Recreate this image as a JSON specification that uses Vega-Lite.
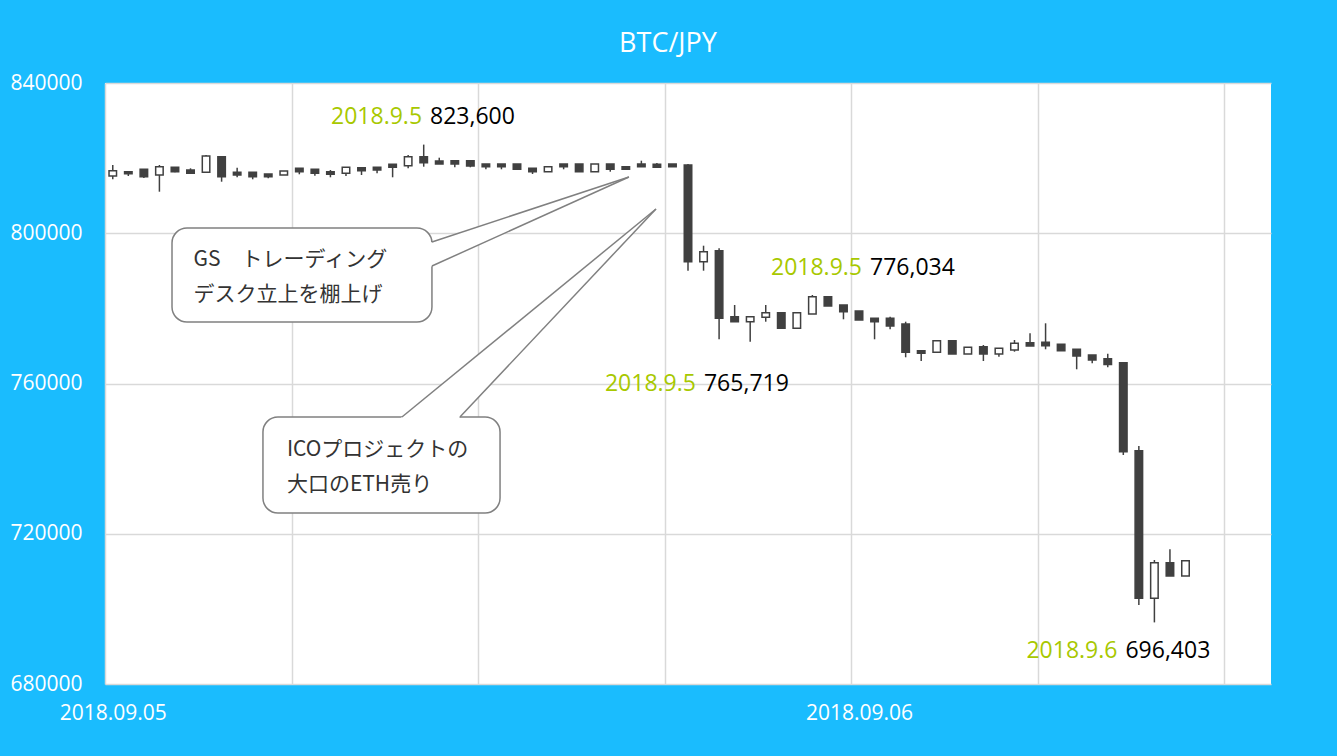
{
  "$schema": "https://vega.github.io/schema/vega-lite/v6.json",
  "width": 1166,
  "height": 601,
  "autosize": {"type": "none"},
  "padding": {"left": 105, "top": 83, "right": 66, "bottom": 72},
  "background": "#1ABCFE",
  "view": {"fill": "white", "stroke": null},
  "title": {"text": "BTC/JPY", "color": "white", "fontSize": 27, "font": "Open Sans", "fontWeight": "normal", "anchor": "middle", "dx": -20, "dy": 14, "baseline": "alphabetic", "offset": 7},
  "datasets": {
    "candles": [
      {"i":0,"open":815242,"high":818170,"low":814363,"close":816653},
      {"i":1,"open":816387,"high":816450,"low":815242,"close":815855},
      {"i":2,"open":817026,"high":817100,"low":814709,"close":815055},
      {"i":3,"open":815508,"high":818170,"low":811062,"close":817718},
      {"i":4,"open":817558,"high":817640,"low":816227,"close":816387},
      {"i":5,"open":816839,"high":817292,"low":815961,"close":815961},
      {"i":6,"open":816227,"high":820832,"low":816227,"close":820566},
      {"i":7,"open":820380,"high":820566,"low":813724,"close":815055},
      {"i":8,"open":816227,"high":817452,"low":814896,"close":815508},
      {"i":9,"open":816227,"high":816307,"low":814363,"close":815055},
      {"i":10,"open":815774,"high":815774,"low":814629,"close":815055},
      {"i":11,"open":815508,"high":816573,"low":815508,"close":816573},
      {"i":12,"open":817292,"high":817292,"low":815694,"close":816387},
      {"i":13,"open":817026,"high":817026,"low":815322,"close":815961},
      {"i":14,"open":816387,"high":816839,"low":814896,"close":815694},
      {"i":15,"open":815961,"high":817558,"low":815242,"close":817558},
      {"i":16,"open":817452,"high":817452,"low":815508,"close":816653},
      {"i":17,"open":817558,"high":817558,"low":815961,"close":816839},
      {"i":18,"open":818356,"high":818356,"low":814896,"close":817558},
      {"i":19,"open":817984,"high":820832,"low":817292,"close":820380},
      {"i":20,"open":820380,"high":823600,"low":817718,"close":818783},
      {"i":21,"open":819235,"high":820114,"low":818436,"close":818436},
      {"i":22,"open":819315,"high":819315,"low":817558,"close":818436},
      {"i":23,"open":819315,"high":819315,"low":817558,"close":817904},
      {"i":24,"open":818436,"high":818436,"low":817026,"close":817718},
      {"i":25,"open":818436,"high":818436,"low":817026,"close":817718},
      {"i":26,"open":818436,"high":818436,"low":817026,"close":817026},
      {"i":27,"open":817292,"high":817292,"low":815774,"close":816387},
      {"i":28,"open":816387,"high":817718,"low":816387,"close":817718},
      {"i":29,"open":818436,"high":818436,"low":817026,"close":817718},
      {"i":30,"open":818436,"high":818436,"low":816387,"close":816387},
      {"i":31,"open":816387,"high":818436,"low":816387,"close":818436},
      {"i":32,"open":818436,"high":818436,"low":816387,"close":817026},
      {"i":33,"open":817718,"high":817718,"low":817026,"close":817026},
      {"i":34,"open":818436,"high":819315,"low":817718,"close":817718},
      {"i":35,"open":818356,"high":818702,"low":817372,"close":817558},
      {"i":36,"open":818436,"high":818436,"low":817718,"close":817718},
      {"i":37,"open":818170,"high":818436,"low":790030,"close":792426},
      {"i":38,"open":792426,"high":796686,"low":790030,"close":795089},
      {"i":39,"open":795355,"high":795994,"low":771768,"close":777358},
      {"i":40,"open":777784,"high":780899,"low":776453,"close":776453},
      {"i":41,"open":776453,"high":777784,"low":771129,"close":777784},
      {"i":42,"open":777625,"high":780899,"low":776453,"close":778849},
      {"i":43,"open":778849,"high":778849,"low":774696,"close":774696},
      {"i":44,"open":774696,"high":778849,"low":774696,"close":778849},
      {"i":45,"open":778503,"high":783561,"low":778503,"close":783109},
      {"i":46,"open":783109,"high":783109,"low":780633,"close":780633},
      {"i":47,"open":780899,"high":780899,"low":777092,"close":779115},
      {"i":48,"open":779302,"high":779302,"low":776906,"close":776906},
      {"i":49,"open":777358,"high":777358,"low":771768,"close":776453},
      {"i":50,"open":777358,"high":777784,"low":774430,"close":775309},
      {"i":51,"open":775841,"high":776453,"low":766976,"close":768307},
      {"i":52,"open":768733,"high":768733,"low":765991,"close":768041},
      {"i":53,"open":768307,"high":771395,"low":768307,"close":771395},
      {"i":54,"open":771395,"high":771395,"low":767854,"close":767854},
      {"i":55,"open":767854,"high":769638,"low":767854,"close":769638},
      {"i":56,"open":769798,"high":770250,"low":765991,"close":767854},
      {"i":57,"open":767854,"high":769372,"low":767136,"close":769372},
      {"i":58,"open":768919,"high":771581,"low":768467,"close":770703},
      {"i":59,"open":770863,"high":773365,"low":769984,"close":769984},
      {"i":60,"open":770969,"high":776027,"low":769106,"close":770064},
      {"i":61,"open":770437,"high":770437,"low":768733,"close":768733},
      {"i":62,"open":769106,"high":769106,"low":763781,"close":767322},
      {"i":63,"open":767588,"high":767588,"low":765379,"close":766257},
      {"i":64,"open":766603,"high":767934,"low":764314,"close":765059},
      {"i":65,"open":765538,"high":765538,"low":740966,"close":741845},
      {"i":66,"open":742111,"high":743362,"low":701033,"close":702817},
      {"i":67,"open":702817,"high":713013,"low":696403,"close":712294},
      {"i":68,"open":712294,"high":715862,"low":708754,"close":708754},
      {"i":69,"open":708754,"high":712827,"low":708754,"close":712827}
    ],
    "labels": [
      {"x":20.15,"y":829085,"date":"2018.9.5","value":"823,600"},
      {"x":48.45,"y":788886,"date":"2018.9.5","value":"776,034"},
      {"x":37.77,"y":758085,"date":"2018.9.5","value":"765,719"},
      {"x":64.88,"y":686844,"date":"2018.9.6","value":"696,403"}
    ],
    "boxes": [
      {"x1":3.81,"x2":20.53,"y1":801398,"y2":776373},
      {"x1":9.66,"x2":24.91,"y1":751082,"y2":725525}
    ],
    "wedgeA": [
      {"x":20.4,"top":797495,"bottom":791042},
      {"x":33.2,"top":814975,"bottom":814975}
    ],
    "wedgeB": [
      {"y":750550,"left":18.45,"right":22.21},
      {"y":806456,"left":34.94,"right":34.94}
    ],
    "edges": [
      {"edge":"a1","x":20.53,"y":797671},
      {"edge":"a1","x":33.2,"y":814975},
      {"edge":"a2","x":20.53,"y":791282},
      {"edge":"a2","x":33.2,"y":814975},
      {"edge":"b1","x":18.6,"y":751082},
      {"edge":"b1","x":34.94,"y":806456},
      {"edge":"b2","x":22.33,"y":751082},
      {"edge":"b2","x":34.94,"y":806456}
    ],
    "notes": [
      {"x":5.2,"y":791282,"text":"GS　トレーディング"},
      {"x":5.2,"y":781964,"text":"デスク立上を棚上げ"},
      {"x":11.2,"y":740700,"text":"ICOプロジェクトの"},
      {"x":11.2,"y":731382,"text":"大口のETH売り"}
    ]
  },
  "layer": [
    {
      "data": {"name": "candles"},
      "mark": {"type": "rule", "color": "#404040", "strokeWidth": 1.5},
      "encoding": {
        "x": {"field": "i", "type": "quantitative",
          "scale": {"domain": [-0.5, 74.5], "nice": false, "zero": false, "padding": 0},
          "axis": {"title": null, "values": [-0.5, 11.5, 23.5, 35.5, 47.5, 59.5, 71.5], "grid": true, "gridColor": "#d9d9d9", "gridWidth": 1.5, "domain": false, "ticks": false,
            "labelExpr": "datum.value == -0.5 ? '2018.09.05' : (datum.value == 47.5 ? '2018.09.06' : '')",
            "labelOffset": 7.8, "labelColor": "white", "labelFontSize": 21, "labelFont": "Open Sans", "labelPadding": 18, "labelFlush": false, "labelOverlap": false, "labelBound": false}},
        "y": {"field": "low", "type": "quantitative",
          "scale": {"domain": [680000, 840000], "nice": false, "zero": false, "padding": 0},
          "axis": {"title": null, "values": [680000, 720000, 760000, 800000, 840000], "format": "d", "grid": true, "gridColor": "#d9d9d9", "gridWidth": 1.5, "domain": false, "ticks": false,
            "labelColor": "white", "labelFontSize": 21, "labelFont": "Open Sans", "labelPadding": 23, "labelFlush": false}},
        "y2": {"field": "high"}
      }
    },
    {
      "data": {"name": "candles"},
      "mark": {"type": "bar", "width": 7.5, "stroke": "#404040", "strokeWidth": 1.5},
      "encoding": {
        "x": {"field": "i", "type": "quantitative", "title": null},
        "y": {"field": "open", "type": "quantitative", "title": null},
        "y2": {"field": "close"},
        "fill": {"condition": {"test": "datum.close < datum.open", "value": "#404040"}, "value": "white"}
      }
    },
    {
      "data": {"name": "boxes"},
      "mark": {"type": "rect", "cornerRadius": 15, "fill": "white", "stroke": "#808080", "strokeWidth": 1.5},
      "encoding": {
        "x": {"field": "x1", "type": "quantitative", "title": null},
        "x2": {"field": "x2"},
        "y": {"field": "y1", "type": "quantitative", "title": null},
        "y2": {"field": "y2"}
      }
    },
    {
      "data": {"name": "wedgeA"},
      "mark": {"type": "area", "fill": "white", "strokeWidth": 0},
      "encoding": {
        "x": {"field": "x", "type": "quantitative", "title": null},
        "y": {"field": "top", "type": "quantitative", "title": null},
        "y2": {"field": "bottom"}
      }
    },
    {
      "data": {"name": "wedgeB"},
      "mark": {"type": "area", "orient": "horizontal", "fill": "white", "strokeWidth": 0},
      "encoding": {
        "y": {"field": "y", "type": "quantitative", "title": null},
        "x": {"field": "left", "type": "quantitative", "title": null},
        "x2": {"field": "right"}
      }
    },
    {
      "data": {"name": "edges"},
      "mark": {"type": "line", "color": "#808080", "strokeWidth": 1.5},
      "encoding": {
        "x": {"field": "x", "type": "quantitative", "title": null},
        "y": {"field": "y", "type": "quantitative", "title": null},
        "detail": {"field": "edge"}
      }
    },
    {
      "data": {"name": "notes"},
      "mark": {"type": "text", "align": "left", "baseline": "alphabetic", "font": "Noto Sans CJK JP", "fontSize": 21, "color": "#333333"},
      "encoding": {
        "x": {"field": "x", "type": "quantitative", "title": null},
        "y": {"field": "y", "type": "quantitative", "title": null},
        "text": {"field": "text"}
      }
    },
    {
      "data": {"name": "labels"},
      "mark": {"type": "text", "align": "right", "baseline": "alphabetic", "dx": -4, "font": "Open Sans", "fontSize": 23, "color": "#A8C800"},
      "encoding": {
        "x": {"field": "x", "type": "quantitative", "title": null},
        "y": {"field": "y", "type": "quantitative", "title": null},
        "text": {"field": "date"}
      }
    },
    {
      "data": {"name": "labels"},
      "mark": {"type": "text", "align": "left", "baseline": "alphabetic", "dx": 4, "font": "Open Sans", "fontSize": 23, "color": "black"},
      "encoding": {
        "x": {"field": "x", "type": "quantitative", "title": null},
        "y": {"field": "y", "type": "quantitative", "title": null},
        "text": {"field": "value"}
      }
    }
  ]
}
